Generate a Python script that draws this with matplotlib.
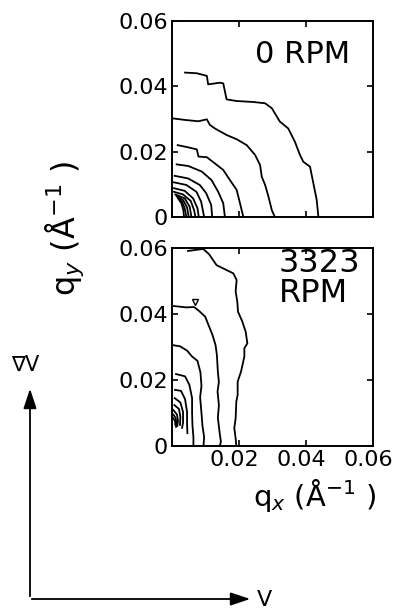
import matplotlib
matplotlib.use("Agg")
import matplotlib.pyplot as plt
import matplotlib.transforms as mtransforms

# contours, q in 1/A
# 0 RPM panel
rpm0_c1_qx = [0.0039, 0.0074, 0.0104, 0.0108, 0.0143, 0.0153, 0.0163, 0.0193, 0.0243, 0.0278,
              0.0298, 0.0322, 0.0347, 0.0367, 0.0382, 0.0392, 0.0412, 0.0422, 0.0432, 0.0437]
rpm0_c1_qy = [0.0442, 0.0440, 0.0432, 0.0406, 0.0411, 0.0409, 0.0360, 0.0355, 0.0352, 0.0348,
              0.0333, 0.0292, 0.0271, 0.0230, 0.0190, 0.0169, 0.0154, 0.0103, 0.0052, 0.0]
rpm0_c2_qx = [0.0001, 0.0039, 0.0079, 0.0104, 0.0113, 0.0128, 0.0163, 0.0193, 0.0223, 0.0248,
              0.0263, 0.0268, 0.0278, 0.0288, 0.0298, 0.0307]
rpm0_c2_qy = [0.0302, 0.0297, 0.0293, 0.0299, 0.0282, 0.0271, 0.0251, 0.0238, 0.0220, 0.0190,
              0.0159, 0.0123, 0.0098, 0.0062, 0.0021, 0.0]
rpm0_c3_qx = [0.0017, 0.0049, 0.0074, 0.0079, 0.0104, 0.0128, 0.0153, 0.0173, 0.0193, 0.0203, 0.0213]
rpm0_c3_qy = [0.0220, 0.0213, 0.0207, 0.0185, 0.0183, 0.0164, 0.0144, 0.0113, 0.0083, 0.0042, 0.0]
rpm0_c4_qx = [0.0014, 0.0049, 0.0089, 0.0118, 0.0138, 0.0153, 0.0158]
rpm0_c4_qy = [0.0161, 0.0156, 0.0139, 0.0113, 0.0077, 0.0042, 0.0]
rpm0_c5_qx = [0.0008, 0.0048, 0.0083, 0.0102, 0.0117, 0.0120]
rpm0_c5_qy = [0.0126, 0.0118, 0.0098, 0.0073, 0.0037, 0.0]
rpm0_c6_qx = [0.0006, 0.0043, 0.0073, 0.0087, 0.0096]
rpm0_c6_qy = [0.0106, 0.0098, 0.0077, 0.0047, 0.0]
rpm0_c7_qx = [0.0006, 0.0038, 0.0063, 0.0076, 0.0080]
rpm0_c7_qy = [0.0088, 0.0080, 0.0057, 0.0027, 0.0]
rpm0_c8_qx = [0.0006, 0.0033, 0.0056, 0.0066, 0.0070]
rpm0_c8_qy = [0.0077, 0.0069, 0.0049, 0.0021, 0.0]
rpm0_c9_qx = [0.0010, 0.0038, 0.0053, 0.0058]
rpm0_c9_qy = [0.0069, 0.0057, 0.0031, 0.0]
rpm0_c10_qx = [0.0013, 0.0033, 0.0045, 0.0050]
rpm0_c10_qy = [0.0065, 0.0052, 0.0029, 0.0]
rpm0_c11_qx = [0.0016, 0.0030, 0.0038, 0.0043]
rpm0_c11_qy = [0.0061, 0.0047, 0.0026, 0.0]
rpm0_c12_qx = [0.0018, 0.0028, 0.0034, 0.0036]
rpm0_c12_qy = [0.0057, 0.0042, 0.0021, 0.0]

# 3323 RPM panel
rpm3323_c1_qx = [0.0048, 0.0093, 0.0110, 0.0133, 0.0163, 0.0183, 0.0193, 0.0190, 0.0195, 0.0197,
                 0.0210, 0.0220, 0.0225, 0.0216, 0.0216, 0.0206, 0.0196, 0.0196, 0.0192, 0.0190,
                 0.0186, 0.0190, 0.0192]
rpm3323_c1_qy = [0.0591, 0.0597, 0.0582, 0.0548, 0.0533, 0.0523, 0.0503, 0.0468, 0.0437, 0.0407,
                 0.0377, 0.0346, 0.0311, 0.0296, 0.0271, 0.0225, 0.0195, 0.0155, 0.0134, 0.0084,
                 0.0054, 0.0023, 0.0]
rpm3323_c2_qx = [0.0006, 0.0042, 0.0066, 0.0081, 0.0099, 0.0110, 0.0121, 0.0130, 0.0134, 0.0137,
                 0.0140, 0.0136, 0.0140, 0.0137, 0.0142, 0.0146, 0.0143]
rpm3323_c2_qy = [0.0424, 0.0420, 0.0421, 0.0409, 0.0392, 0.0364, 0.0336, 0.0306, 0.0276, 0.0224,
                 0.0194, 0.0165, 0.0124, 0.0085, 0.0042, 0.0013, 0.0]
rpm3323_c3_qx = [0.0000, 0.0024, 0.0045, 0.0060, 0.0076, 0.0085, 0.0088, 0.0084, 0.0088, 0.0091,
                 0.0096, 0.0094]
rpm3323_c3_qy = [0.0306, 0.0302, 0.0289, 0.0271, 0.0258, 0.0223, 0.0182, 0.0148, 0.0100, 0.0061,
                 0.0027, 0.0]
rpm3323_c4_qx = [0.0012, 0.0039, 0.0052, 0.0060, 0.0060, 0.0061, 0.0064, 0.0064]
rpm3323_c4_qy = [0.0218, 0.0211, 0.0185, 0.0145, 0.0103, 0.0064, 0.0027, 0.0]
rpm3323_c5_qx = [0.0009, 0.0027, 0.0039, 0.0045, 0.0045, 0.0046]
rpm3323_c5_qy = [0.0170, 0.0167, 0.0142, 0.0103, 0.0067, 0.0039]
rpm3323_c6_qx = [0.0008, 0.0025, 0.0033, 0.0033, 0.0030]
rpm3323_c6_qy = [0.0145, 0.0132, 0.0103, 0.0070, 0.0055]
rpm3323_c7_qx = [0.0007, 0.0021, 0.0025, 0.0024]
rpm3323_c7_qy = [0.0124, 0.0112, 0.0088, 0.0064]
rpm3323_c8_qx = [0.0004, 0.0015, 0.0018, 0.0016]
rpm3323_c8_qy = [0.0109, 0.0095, 0.0076, 0.0061]
rpm3323_c9_qx = [0.0004, 0.0011, 0.0013, 0.0012]
rpm3323_c9_qy = [0.0095, 0.0085, 0.0070, 0.0058]
rpm3323_c10_qx = [0.0003, 0.0009, 0.0010]
rpm3323_c10_qy = [0.0085, 0.0076, 0.0064]
rpm3323_mark_qx = [0.0069]
rpm3323_mark_qy = [0.0436]

ticks = [0, 0.02, 0.04, 0.06]
ytick_labels = ["0", "0.02", "0.04", "0.06"]
xtick_labels = ["", "0.02", "0.04", "0.06"]

rpm0 = [(rpm0_c1_qx, rpm0_c1_qy), (rpm0_c2_qx, rpm0_c2_qy), (rpm0_c3_qx, rpm0_c3_qy),
        (rpm0_c4_qx, rpm0_c4_qy), (rpm0_c5_qx, rpm0_c5_qy), (rpm0_c6_qx, rpm0_c6_qy),
        (rpm0_c7_qx, rpm0_c7_qy), (rpm0_c8_qx, rpm0_c8_qy), (rpm0_c9_qx, rpm0_c9_qy),
        (rpm0_c10_qx, rpm0_c10_qy), (rpm0_c11_qx, rpm0_c11_qy), (rpm0_c12_qx, rpm0_c12_qy)]
rpm3323 = [(rpm3323_c1_qx, rpm3323_c1_qy), (rpm3323_c2_qx, rpm3323_c2_qy),
           (rpm3323_c3_qx, rpm3323_c3_qy), (rpm3323_c4_qx, rpm3323_c4_qy),
           (rpm3323_c5_qx, rpm3323_c5_qy), (rpm3323_c6_qx, rpm3323_c6_qy),
           (rpm3323_c7_qx, rpm3323_c7_qy), (rpm3323_c8_qx, rpm3323_c8_qy),
           (rpm3323_c9_qx, rpm3323_c9_qy), (rpm3323_c10_qx, rpm3323_c10_qy)]

plt.rcParams["font.family"] = ["DejaVu Sans"]

fig = plt.figure(figsize=(3.95, 6.1), dpi=100)
ax_top = fig.add_axes([0.4354, 0.6443, 0.5089, 0.3213])
ax_bot = fig.add_axes([0.4354, 0.2689, 0.5089, 0.3246])

for ax, contours in [(ax_top, rpm0), (ax_bot, rpm3323)]:
    for qx, qy in contours:
        ax.plot(qx, qy, color="black", lw=1.3)
    ax.set_xlim(0, 0.06)
    ax.set_ylim(0, 0.06)
    ax.set_xticks(ticks)
    ax.set_yticks(ticks)
    ax.set_yticklabels(ytick_labels)
    ax.tick_params(direction="in", length=4, width=1.2, top=True, right=True,
                   labelsize=16, pad=3)
    for s in ax.spines.values():
        s.set_linewidth(1.4)

ax_top.set_xticklabels([])
ax_bot.set_xticklabels(xtick_labels)
# labels sit a little left of their ticks in the original
shift = mtransforms.ScaledTranslation(-5 / 100, 0, fig.dpi_scale_trans)
for lab in ax_bot.get_xticklabels():
    lab.set_transform(lab.get_transform() + shift)

ax_bot.plot(rpm3323_mark_qx, rpm3323_mark_qy, marker="v", ms=4, mfc="none",
            mec="black", mew=1, ls="none")

ax_top.text(0.885, 0.83, "0 RPM", transform=ax_top.transAxes, fontsize=22,
            ha="right", va="center")
ax_bot.text(0.53, 1.0, "3323\nRPM", transform=ax_bot.transAxes, fontsize=23,
            ha="left", va="top", linespacing=0.95)

fig.text(0.165, 0.626, r"q$_y$ (Å$^{-1}$ )", rotation=90, fontsize=23,
         ha="center", va="center")
fig.text(0.797, 0.188, r"q$_x$ (Å$^{-1}$ )", fontsize=21, ha="center", va="center")

# flow / gradient axes sketch
fig.add_artist(matplotlib.patches.FancyArrowPatch(
    (30 / 395, 1 - 599 / 610), (30 / 395, 1 - 386 / 610), transform=fig.transFigure,
    arrowstyle="-|>,head_length=12,head_width=4", color="black", lw=1.3))
fig.add_artist(matplotlib.patches.FancyArrowPatch(
    (29 / 395, 1 - 599 / 610), (253 / 395, 1 - 599 / 610), transform=fig.transFigure,
    arrowstyle="-|>,head_length=12,head_width=4", color="black", lw=1.3))
fig.text(25 / 395, 1 - 365 / 610, "∇V", fontsize=15, ha="center", va="center")
fig.text(264 / 395, 1 - 600 / 610, "V", fontsize=16, ha="center", va="center")

fig.savefig("out.png", dpi=100)
